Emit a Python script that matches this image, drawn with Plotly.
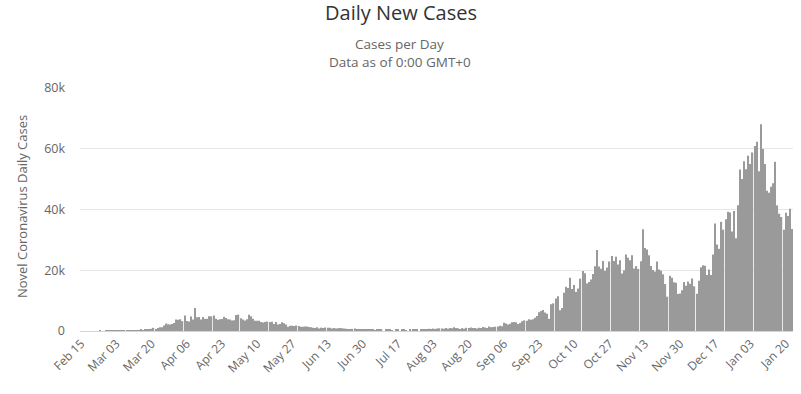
import pandas as pd
import plotly.graph_objects as go

# ---- data (daily new cases) ----
feb = [0, 0, 0, 0, 0, 0, 0, 0, 0, 4, 0, 0, 2, 5, 3]
mar = [12, 4, 11, 34, 29, 48, 45, 69, 43, 62, 77, 130, 48, 208, 342, 251,
       407, 676, 643, 714, 1035, 665, 967, 1250, 1260, 1850, 2500, 2200, 2100, 2280, 2620]
apr = [3760, 3690, 3870, 3250, 5140, 3310, 3160, 4780, 3780, 7550, 4550, 4600, 3780, 4570, 4000,
       4020, 4870, 4810, 5090, 4070, 3740, 3870, 3990, 4690, 4270, 3880, 3750, 3480, 3550, 5250]
may = [5390, 4180, 3770, 3470, 3830, 5320, 4880, 4040, 3390, 3410, 3370, 2960, 2820, 3000, 3100, 3000,
       3070, 2330, 2970, 2150, 2280, 2860, 2570, 2100, 1410, 1740, 1750, 1640, 1820, 1680, 1370]
jun = [1400, 1500, 1450, 1350, 1250, 1100, 1000, 1250, 850, 1100, 1000, 1150, 1050, 1100, 800,
       950, 850, 900, 950, 900, 850, 700, 650, 500, 700, 800, 600, 600, 550, 480]
jul = [450, 420, 400, 480, 380, 250, 430, 470, 450, 0, 500, 450, 380, 280, 0, 420,
       450, 0, 380, 350, 300, 0, 480, 520, 500, 450, 0, 520, 560, 600, 620]
aug = [700, 650, 800, 650, 820, 880, 800, 700, 950, 750, 1000, 900, 1250, 950, 900, 650,
       950, 750, 1050, 950, 1150, 950, 950, 800, 1050, 950, 1350, 1150, 1000, 1500, 1250]
sep = [1295, 1400, 1500, 1700, 1600, 2700, 2500, 2100, 2400, 2900, 3000, 2900, 2300, 2600, 3200,
       3500, 3400, 3900, 3700, 3900, 4400, 4900, 6200, 6600, 6900, 6100, 5700, 4000, 8800, 9100]
oct_ = [10700, 11400, 6800, 7600, 12594, 14542, 14162, 17540, 13864, 15166, 12872, 13972, 17234,
        19724, 18980, 15650, 16171, 16982, 18804, 21331, 26688, 21242, 20530, 23012, 19790, 20890,
        22885, 24701, 23065, 24405, 21915]
nov = [23254, 18950, 20018, 25177, 24141, 23287, 24957, 20572, 21350, 20412, 22950, 33470, 27301,
       26860, 24962, 21363, 20051, 19609, 22915, 20252, 19875, 18662, 15450, 11299, 18213, 17555,
       16022, 15871, 12155, 12330]
dec = [13430, 16170, 14879, 16298, 15539, 17272, 14718, 12282, 16578, 20964, 21672, 21502, 18447,
       20263, 18450, 25161, 35383, 28507, 27052, 35928, 33364, 36804, 39237, 39036, 32725, 39500,
       30501, 41385, 53135, 50023, 55892]
jan = [53285, 57725, 54990, 58784, 60916, 62322, 52618, 68053, 59937, 54940, 46169, 45533, 47525,
       48682, 55761, 41346, 38598, 37535, 33355, 38905, 37892, 40261, 33552]

values = feb + mar + apr + may + jun + jul + aug + sep + oct_ + nov + dec + jan
dates = pd.date_range("2020-02-15", "2021-01-23", freq="D")
labels = [d.strftime("%b %d") for d in dates]
tick_labels = labels[::17]

y_ticks = [0, 20000, 40000, 60000, 80000]
y_tick_text = ["0", "20k", "40k", "60k", "80k"]

fig = go.Figure()
fig.add_trace(go.Bar(x=labels, y=values,
                     marker=dict(color="#999999", opacity=0.99, line=dict(width=0)),
                     hoverinfo="x+y"))

FONT = "Open Sans, Arial, sans-serif"
W, H = 801, 394
L, T = 80, 88
R = W - 793.5
B = H - 331
pw = W - L - R
ph = H - T - B

def px(x):
    return (x - L) / pw

def py(y):
    return (H - B - y) / ph

fig.update_layout(
    width=W, height=H,
    margin=dict(l=L, r=R, t=T, b=B, autoexpand=False),
    paper_bgcolor="white", plot_bgcolor="white",
    bargap=0.4,
    showlegend=False,
    font=dict(family=FONT, color="#666666", size=12),
    xaxis=dict(type="category", tickmode="array", tickvals=tick_labels, ticktext=tick_labels,
               tickangle=-45, showgrid=False, showline=True, linecolor="#ccd6eb", linewidth=1,
               ticks="", tickfont=dict(size=12, color="#666666"), fixedrange=True,
               automargin=False),
    yaxis=dict(range=[0, 80000], tickmode="array", tickvals=y_ticks, ticktext=y_tick_text,
               showgrid=True, gridcolor="#e6e6e6", gridwidth=1, zeroline=False,
               tickfont=dict(size=12.5, color="#666666"), ticklabelstandoff=14, fixedrange=True,
               automargin=False),
    annotations=[
        dict(text="Daily New Cases", x=px(401), y=py(13), xref="paper", yref="paper",
             showarrow=False, xanchor="center", yanchor="middle",
             font=dict(size=20, color="#333333", family=FONT)),
        dict(text="Cases per Day", x=px(400), y=py(44), xref="paper", yref="paper",
             showarrow=False, xanchor="center", yanchor="middle",
             font=dict(size=13.5, color="#666666", family=FONT)),
        dict(text="Data as of 0:00 GMT+0", x=px(400), y=py(62), xref="paper", yref="paper",
             showarrow=False, xanchor="center", yanchor="middle",
             font=dict(size=13.5, color="#666666", family=FONT)),
        dict(text="Novel Coronavirus Daily Cases", x=px(22), y=py(207), xref="paper", yref="paper",
             showarrow=False, xanchor="center", yanchor="middle", textangle=-90,
             font=dict(size=13, color="#666666", family=FONT)),
    ],
)

fig.write_html("out.html", config={"displayModeBar": False},
               post_script="document.body.style.margin='0px';")
